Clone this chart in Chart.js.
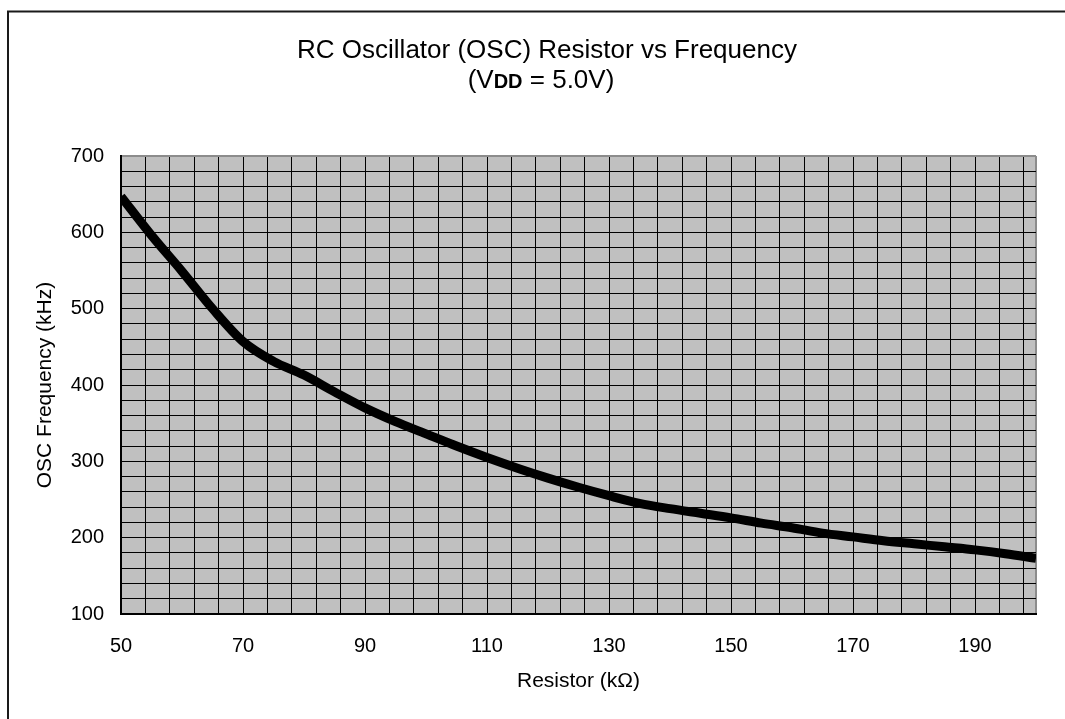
<!DOCTYPE html>
<html>
<head>
<meta charset="utf-8">
<script src="https://cdn.jsdelivr.net/npm/chart.js@4.4.0/dist/chart.umd.min.js"></script>
<style>
  html, body { margin: 0; padding: 0; background: #fff; }
  canvas { display: block; }
</style>
</head>
<body>
<canvas id="c" width="1065" height="719"></canvas>
<script>
// ---- data ----
const resistorKOhm = [50, 55, 60, 65, 70, 75, 80, 85, 90, 95, 100, 105, 110, 115, 120, 125, 130, 135, 140, 145, 150, 155, 160, 165, 170, 175, 180, 185, 190, 195, 200];
const frequencyKHz = [647, 596, 549, 500, 457, 431, 413, 391, 370, 352, 336, 320, 305, 291, 278, 266, 255, 245, 238, 232, 226, 219, 213, 206, 201, 196, 192, 188, 184, 179, 173];
const xTickLabels = [50, 70, 90, 110, 130, 150, 170, 190];
const yTickLabels = [100, 200, 300, 400, 500, 600, 700];
const xRange = [50, 200];
const yRange = [100, 700];
const xGridStep = 4;
const yGridStep = 20;
const titleLine1 = 'RC Oscillator (OSC) Resistor vs Frequency';
const titleLine2 = ['(V', 'DD', ' = 5.0V)'];
const xAxisTitle = 'Resistor (k\u03A9)';
const yAxisTitle = 'OSC Frequency (kHz)';

const FONT = "'Liberation Sans', Arial, sans-serif";

const decorPlugin = {
  id: 'decor',
  beforeDraw(chart) {
    const { ctx, chartArea: a } = chart;
    ctx.save();
    ctx.fillStyle = '#c0c0c0';
    ctx.fillRect(a.left, a.top, a.right - a.left, a.bottom - a.top);
    ctx.restore();
  },
  afterDraw(chart) {
    const ctx = chart.ctx;
    ctx.save();
    // outer frame (left & top)
    ctx.strokeStyle = '#1a1a1a';
    ctx.lineWidth = 2;
    ctx.beginPath();
    ctx.moveTo(8, 719);
    ctx.lineTo(8, 11.5);
    ctx.lineTo(1065, 11.5);
    ctx.stroke();
    // title
    ctx.fillStyle = '#000';
    ctx.textBaseline = 'alphabetic';
    ctx.textAlign = 'center';
    ctx.font = '26px ' + FONT;
    ctx.fillText(titleLine1, 547, 58);
    // second line with bold DD
    const fN = '26px ' + FONT;
    const fB = 'bold 20px ' + FONT;
    ctx.textAlign = 'left';
    ctx.font = fN; const w0 = ctx.measureText(titleLine2[0]).width;
    ctx.font = fB; const w1 = ctx.measureText(titleLine2[1]).width;
    ctx.font = fN; const w2 = ctx.measureText(titleLine2[2]).width;
    let x = 541 - (w0 + w1 + w2) / 2;
    ctx.font = fN; ctx.fillText(titleLine2[0], x, 88); x += w0;
    ctx.font = fB; ctx.fillText(titleLine2[1], x, 88); x += w1;
    ctx.font = fN; ctx.fillText(titleLine2[2], x, 88);
    ctx.restore();
  }
};

function buildTicks(min, max, step) {
  const t = [];
  for (let v = min; v < max; v += step) t.push({ value: v });
  t.push({ value: max });
  return t;
}

new Chart(document.getElementById('c'), {
  type: 'line',
  data: {
    datasets: [{
      data: resistorKOhm.map((r, i) => ({ x: r, y: frequencyKHz[i] })),
      borderColor: '#000',
      borderWidth: 9,
      pointRadius: 0,
      cubicInterpolationMode: 'monotone',
      fill: false
    }]
  },
  options: {
    responsive: false,
    animation: false,
    devicePixelRatio: 1,
    layout: { padding: { top: 156, right: 29, bottom: 0, left: 0 } },
    plugins: { legend: { display: false }, tooltip: { enabled: false }, title: { display: false } },
    scales: {
      x: {
        type: 'linear',
        min: xRange[0], max: xRange[1],
        afterBuildTicks: s => { s.ticks = buildTicks(xRange[0], xRange[1], xGridStep); },
        afterFit: s => { s.height = 105; },
        ticks: {
          autoSkip: false, maxRotation: 0,
          color: '#000', padding: 20,
          font: { family: FONT, size: 20 },
          callback: v => xTickLabels.includes(v) ? String(v) : ''
        },
        grid: {
          drawTicks: false,
          color: c => (c.tick && c.tick.value === xRange[1]) ? '#8c8c8c' : '#000',
          lineWidth: c => (c.tick && c.tick.value === xRange[1]) ? 2 : 1
        },
        border: { color: '#000', width: 2 },
        title: { display: true, text: xAxisTitle, color: '#000', font: { family: FONT, size: 21 }, padding: { top: 25, bottom: 25 } }
      },
      y: {
        type: 'linear',
        min: yRange[0], max: yRange[1],
        afterBuildTicks: s => { s.ticks = buildTicks(yRange[0], yRange[1], yGridStep); },
        afterFit: s => { s.width = 121; },
        ticks: {
          autoSkip: false,
          color: '#000', padding: 17,
          font: { family: FONT, size: 20 },
          callback: v => yTickLabels.includes(v) ? String(v) : ''
        },
        grid: {
          drawTicks: false,
          color: c => (c.tick && c.tick.value === yRange[1]) ? '#8c8c8c' : '#000',
          lineWidth: c => (c.tick && c.tick.value === yRange[1]) ? 2 : 1
        },
        border: { color: '#000', width: 2 },
        title: { display: true, text: yAxisTitle, color: '#000', font: { family: FONT, size: 21 }, padding: { top: 33, bottom: 0 } }
      }
    }
  },
  plugins: [decorPlugin]
});
</script>
</body>
</html>
